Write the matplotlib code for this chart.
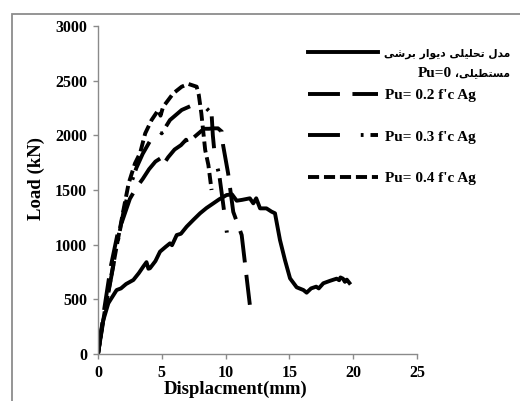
import matplotlib
matplotlib.use("Agg")
import matplotlib.pyplot as plt
from matplotlib.patches import Rectangle

plt.rcParams['lines.scale_dashes'] = False

# ---------------- data ----------------
x_pu0 = [0, 0.2, 0.42, 0.81, 1.0, 1.46, 1.8, 2.2, 2.77, 3.2, 3.55, 3.8, 3.95, 4.07, 4.5,
         4.86, 5.3, 5.64, 5.8, 6.17, 6.5, 6.95, 7.5, 8.0, 8.5, 9.04, 9.5, 10.08, 10.5,
         10.87, 11.3, 11.9, 12.17, 12.4, 12.7, 13.2, 13.6, 13.87, 14.26, 14.65, 15.05,
         15.57, 16.1, 16.35, 16.7, 17.1, 17.3, 17.66, 18.2, 18.7, 18.9, 19.0, 19.2,
         19.35, 19.5, 19.7]
y_pu0 = [0, 180, 311, 464, 500, 585, 600, 640, 677, 740, 800, 840, 780, 784, 850,
         936, 980, 1012, 995, 1088, 1100, 1165, 1230, 1287, 1335, 1378, 1415, 1454, 1460,
         1402, 1410, 1424, 1378, 1424, 1332, 1332, 1302, 1287, 1043, 860, 692,
         610, 585, 561, 600, 616, 600, 647, 670, 689, 675, 700, 689,
         660, 680, 650]

x_pu02 = [0, 0.5, 1.0, 1.5, 2.0, 2.5, 3.0, 3.5, 4.0, 4.5, 4.9, 5.1, 5.5, 6.0, 6.5,
          6.9, 7.05, 7.5, 8.0, 8.3, 8.7, 9.0, 9.4, 9.7, 9.8, 10.2, 10.6, 11.26, 11.9]
y_pu02 = [0, 420, 800, 1080, 1250, 1420, 1520, 1600, 1690, 1760, 1790, 1730, 1800, 1870, 1910,
          1960, 1915, 1980, 2030, 2060, 2060, 2064, 2064, 2034, 1912, 1650, 1300, 1088, 450]

x_pu03 = [0, 0.3, 0.6, 1.0, 1.5, 2.0, 2.5, 3.0, 3.5, 4.2, 4.73, 4.99, 5.64, 6.56, 7.3,
          7.86, 8.0, 8.1, 8.5, 8.9, 9.0, 9.17, 9.5, 9.8, 10.1]
y_pu03 = [0, 220, 430, 680, 1000, 1300, 1530, 1700, 1830, 1973, 2064, 2018, 2140, 2232, 2270,
          2293, 2300, 2262, 2247, 2200, 2000, 1790, 1640, 1380, 1110]

x_pu04 = [0, 0.3, 0.6, 1.0, 1.5, 2.0, 2.4, 2.9, 3.3, 3.7, 4.2, 4.73, 4.9, 5.1, 5.9,
          6.56, 7.08, 7.73, 7.9, 8.1, 8.4, 8.65, 8.9]
y_pu04 = [0, 230, 440, 690, 1010, 1320, 1560, 1744, 1838, 2018, 2140, 2232, 2180, 2260, 2384,
          2445, 2470, 2445, 2369, 2200, 1866, 1729, 1500]

x_ticks = [0, 5, 10, 15, 20, 25]
y_ticks = [0, 500, 1000, 1500, 2000, 2500, 3000]

label_02 = "Pu= 0.2 f'c Ag"
label_03 = "Pu= 0.3 f'c Ag"
label_04 = "Pu= 0.4 f'c Ag"
label_pu0_words_1 = ["مدل", "تحلیلی", "دیوار", "برشی"]
label_pu0_word_2 = "مستطیلی"
label_pu0_suffix = "Pu=0"

# ------------- Persian shaping (presentation forms, visual order) -------------
FORMS = {
    'ا': ('\uFE8D', '\uFE8E', None, None),
    'ب': ('\uFE8F', '\uFE90', '\uFE91', '\uFE92'),
    'ت': ('\uFE95', '\uFE96', '\uFE97', '\uFE98'),
    'ح': ('\uFEA1', '\uFEA2', '\uFEA3', '\uFEA4'),
    'د': ('\uFEA9', '\uFEAA', None, None),
    'ر': ('\uFEAD', '\uFEAE', None, None),
    'س': ('\uFEB1', '\uFEB2', '\uFEB3', '\uFEB4'),
    'ش': ('\uFEB5', '\uFEB6', '\uFEB7', '\uFEB8'),
    'ط': ('\uFEC1', '\uFEC2', '\uFEC3', '\uFEC4'),
    'ل': ('\uFEDD', '\uFEDE', '\uFEDF', '\uFEE0'),
    'م': ('\uFEE1', '\uFEE2', '\uFEE3', '\uFEE4'),
    'و': ('\uFEED', '\uFEEE', None, None),
    'ی': ('\uFEEF', '\uFEF0', '\uFEF3', '\uFEF4'),
}


def shape_word(w):
    out = []
    for i, c in enumerate(w):
        if c not in FORMS:
            out.append(c)
            continue
        prev = w[i - 1] if i > 0 else None
        nxt = w[i + 1] if i + 1 < len(w) else None
        prev_join = prev in FORMS and FORMS[prev][2] is not None
        dual = FORMS[c][2] is not None
        next_join = dual and nxt in FORMS
        iso, fin, ini, med = FORMS[c]
        if prev_join and next_join:
            out.append(med)
        elif prev_join:
            out.append(fin)
        elif next_join:
            out.append(ini)
        else:
            out.append(iso)
    return ''.join(reversed(out))


line1 = ' '.join(shape_word(w) for w in reversed(label_pu0_words_1))
line2_fa = '\u060C' + shape_word(label_pu0_word_2)

# ---------------- figure ----------------
W, H = 520, 401
fig = plt.figure(figsize=(W / 100, H / 100), dpi=100)
ax = fig.add_axes([98 / W, 1 - 354 / H, (417 - 98) / W, (354 - 26) / H])

lw = 2.8
ax.plot(x_pu0, y_pu0, color='black', lw=lw, solid_joinstyle='round', label=label_pu0_suffix)
ax.plot(x_pu02, y_pu02, color='black', lw=lw, linestyle=(0, (23, 9)), label=label_02)
ax.plot(x_pu03, y_pu03, color='black', lw=lw, linestyle=(0, (23, 15, 2, 5)), label=label_03)
ax.plot(x_pu04, y_pu04, color='black', lw=lw, linestyle=(0, (8, 3.5)), label=label_04)

ax.set_xlim(0, 25)
ax.set_ylim(0, 3000)
ax.set_xticks(x_ticks)
ax.set_yticks(y_ticks)

spine_c = '#8a8a8a'
for s in ['top', 'right']:
    ax.spines[s].set_visible(False)
for s in ['left', 'bottom']:
    ax.spines[s].set_color(spine_c)
    ax.spines[s].set_linewidth(1.0)
ax.tick_params(direction='out', length=3.8, width=1.0, color=spine_c,
               labelsize=11.5, pad=4)
for t in ax.get_xticklabels() + ax.get_yticklabels():
    t.set_fontfamily('Liberation Serif')
    t.set_fontweight('bold')

ax.set_xlabel('Displacment(mm)', fontsize=13.5, fontweight='bold', family='Liberation Serif')
ax.set_ylabel('Load (kN)', fontsize=13.5, fontweight='bold', family='Liberation Serif')
ax.xaxis.set_label_coords((236 - 98) / 319, -(381 - 354) / 328)
ax.yaxis.set_label_coords(-(98 - 45) / 319, (354 - 178) / 328)

leg = ax.legend(loc='upper left', bbox_to_anchor=(308 / W, 1 - 47 / H),
                bbox_transform=fig.transFigure, frameon=False,
                prop={'family': 'Liberation Serif', 'weight': 'bold', 'size': 11},
                handlelength=4.6, handletextpad=0.45, labelspacing=1.82, borderpad=0,
                borderaxespad=0)
# first legend label is drawn separately (two right-aligned lines)
t0 = leg.get_texts()[0]
t0.set_alpha(0)
fig.canvas.draw()
bb = t0.get_window_extent()
ymid1 = (bb.y0 + bb.y1) / 2
x_right = 510
target_w = 126

f1 = fig.text(x_right / W, ymid1 / H, line1, ha='right', va='center',
              family='DejaVu Sans', fontweight='bold', fontsize=9)
fig.canvas.draw()
w1 = f1.get_window_extent().width
fs_fa = 9 * target_w / w1
f1.set_fontsize(fs_fa)

y2 = ymid1 - 19
f2 = fig.text(x_right / W, y2 / H, line2_fa, ha='right', va='center',
              family='DejaVu Sans', fontweight='bold', fontsize=fs_fa)
fig.canvas.draw()
b2 = f2.get_window_extent()
fig.text((b2.x0 - 3) / W, y2 / H, label_pu0_suffix, ha='right', va='center',
         family='Liberation Serif', fontweight='bold', fontsize=11)

fig.patches.append(Rectangle((12 / W, -0.2), 2, (H - 14) / H + 0.2, fill=False,
                             edgecolor='#8c8c8c', lw=1.3, transform=fig.transFigure))

fig.savefig('out.png', dpi=100)
